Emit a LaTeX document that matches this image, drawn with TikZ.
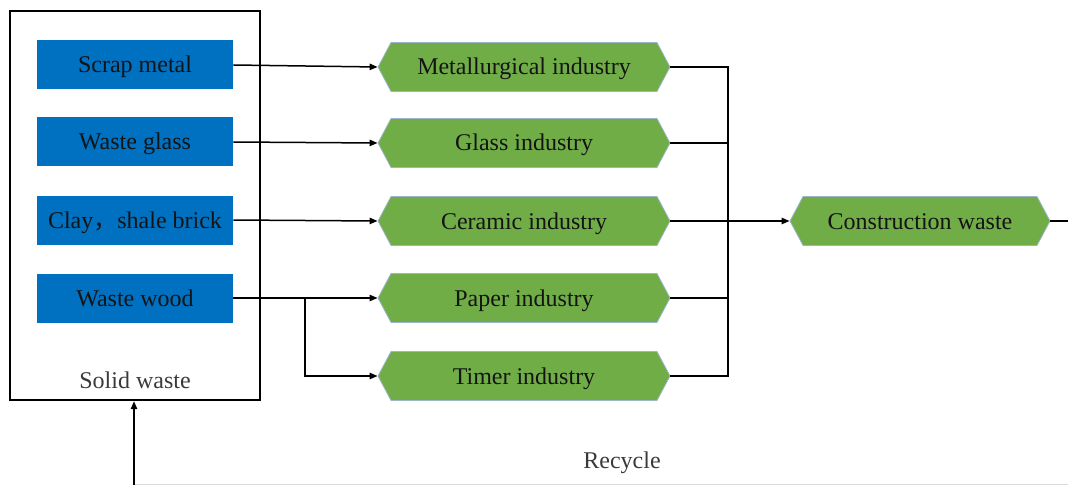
\documentclass[tikz,border=0pt]{standalone}
\usepackage{fontspec}
\setmainfont{Liberation Serif}
\newfontfamily\tnr{Liberation Serif}
\newfontfamily\cjk{Noto Sans CJK SC}
\usetikzlibrary{shapes.symbols,arrows.meta}
\definecolor{wblue}{HTML}{0070C0}
\definecolor{wgreen}{HTML}{70AD47}
\definecolor{wedge}{HTML}{9DB4CC}
\definecolor{wtext}{HTML}{141414}
\definecolor{wgrey}{HTML}{3A3A3A}
\begin{document}
\begin{tikzpicture}[x=0.5pt,y=-0.5pt,
  font=\tnr\fontsize{12pt}{14pt}\selectfont,
  every node/.style={text height=10pt,text depth=2pt},
  bluebox/.style={fill=wblue,draw=none,minimum width=98pt,minimum height=24.5pt,inner sep=0pt,text=wtext},
  hexbox/.style={signal,signal to=west and east,signal pointer angle=124,fill=wgreen,draw=wedge,line width=0.4pt,minimum height=24.5pt,inner sep=0pt,text=wtext},
  conn/.style={line width=0.75pt,draw=black},
  arr/.style={conn,-{Triangle[length=4pt,width=3.2pt]}}
]
\useasboundingbox (0,0) rectangle (1068,486);
% outer box
\node[draw=black,line width=1.2pt,minimum width=125pt,minimum height=194.5pt,inner sep=0pt,text height=,text depth=] (solid) at (135,205.5) {};
\node[text=wgrey] (solidlbl) at (135,380) {Solid waste};
% blue boxes
\node[bluebox] (scrap) at (135,65) {Scrap metal};
\node[bluebox] (wglass) at (135,142) {Waste glass};
\node[bluebox] (clay) at (135,220) {Clay{\cjk ，}shale brick};
\node[bluebox] (wood) at (135,298) {Waste wood};
% hexagons
\node[hexbox,minimum width=146pt] (metal) at (524,67) {Metallurgical industry};
\node[hexbox,minimum width=146pt] (glass) at (524,143) {Glass industry};
\node[hexbox,minimum width=146pt] (ceramic) at (524,221) {Ceramic industry};
\node[hexbox,minimum width=146pt] (paper) at (524,298) {Paper industry};
\node[hexbox,minimum width=146pt] (timer) at (524,376) {Timer industry};
\node[hexbox,minimum width=130pt] (cons) at (920,221) {Construction waste};
\node[text=wgrey] (recycle) at (622,460) {Recycle};
% coordinates
\coordinate (split) at (305,298);
\coordinate (bus) at (728,221);
\coordinate (rightedge) at (1068,221);
\coordinate (bright) at (1068,484.5);
\coordinate (bleft) at (134,484.5);
% connectors
\draw[arr] (scrap.east) -- (metal.west);
\draw[arr] (wglass.east) -- (glass.west);
\draw[arr] (clay.east) -- (ceramic.west);
\draw[arr] (wood.east) -- (paper.west);
\draw[arr] (split) |- (timer.west);
\draw[conn] (metal.east) -| (bus);
\draw[conn] (glass.east) -| (bus);
\draw[conn] (paper.east) -| (bus);
\draw[conn] (timer.east) -| (bus);
\draw[arr] (ceramic.east) -- (cons.west);
\draw[conn] (cons.east) -- (rightedge);
\draw[line width=0.75pt,draw=black!15] (bright) -- (bleft);
\draw[arr] (bleft) -- (solid.south -| bleft);
\end{tikzpicture}
\end{document}
